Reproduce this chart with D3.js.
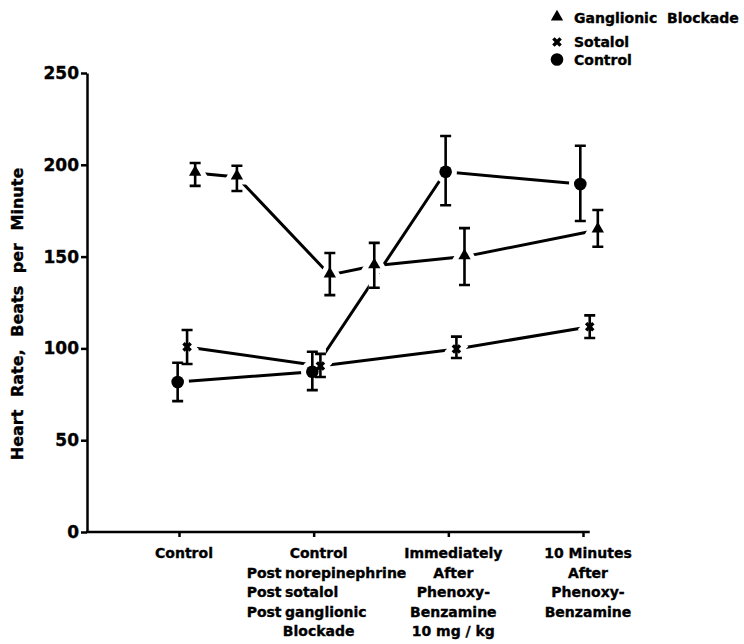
<!DOCTYPE html>
<html>
<head>
<meta charset="utf-8">
<script src="https://cdn.jsdelivr.net/npm/d3@7"></script>
<style>
	body { margin: 0; background: #fff; }
	text { font-family: "DejaVu Sans", sans-serif; font-weight: bold; fill: #000; stroke: #000; stroke-width: 0.35px; }
</style>
</head>
<body>
<div id="chart"></div>
<script>
// x positions are in category units (0 = first tick, 3 = last tick)
var controlX = [-0.01, 0.99, 1.98, 2.98];
var controlY = [81.7, 87.3, 196.2, 189.5];
var controlLo = [71.3, 77.3, 178, 169.4];
var controlHi = [92.2, 98.2, 215.7, 210.4];

var sotalolX = [0.06, 1.05, 2.06, 3.05];
var sotalolY = [100.8, 90.4, 99.7, 111.8];
var sotalolLo = [91.5, 84.4, 94.8, 105.7];
var sotalolHi = [110, 97, 106.4, 118];

var gangX = [0.12, 0.43, 1.12, 1.45, 2.12, 3.11];
var gangY = [195.5, 193.4, 140, 145, 150, 164.5];
var gangLo = [188.5, 185.7, 129, 133, 134.5, 155.4];
var gangHi = [201, 199.5, 152, 157.5, 165.5, 175.4];

var yTicks = [0, 50, 100, 150, 200, 250];
var xTicks = [0, 1, 2, 3];
var xLabels = [
	["Control"],
	["Control", "Post norepinephrine", "Post sotalol", "Post ganglionic", "Blockade"],
	["Immediately", "After", "Phenoxy-", "Benzamine", "10 mg / kg"],
	["10 Minutes", "After", "Phenoxy-", "Benzamine"]
];
var legendNames = ["Ganglionic Blockade", "Sotalol", "Control"];

var width = 744, height = 644;

var svg = d3.select("#chart")
	.append("svg")
	.attr("width", width)
	.attr("height", height);

var x = d3.scaleLinear().domain([0, 3]).range([179, 583]);
var y = d3.scaleLinear().domain([0, 250]).range([532, 73]);
var axisX = 87;

var triangle = d3.symbol().type(d3.symbolTriangle).size(66);
var cross = d3.symbol().type(d3.symbolCross).size(58);

function makeSeries(xs, ys, lo, hi, kind) {
	return xs.map(function (d, i) {
		return { x: d, y: ys[i], lo: lo[i], hi: hi[i], kind: kind };
	});
}

var control = makeSeries(controlX, controlY, controlLo, controlHi, "circle");
var sotalol = makeSeries(sotalolX, sotalolY, sotalolLo, sotalolHi, "cross");
var gang = makeSeries(gangX, gangY, gangLo, gangHi, "triangle");
var allSeries = [gang, sotalol, control];
var allPoints = gang.concat(sotalol, control);

// axes
var yAxis = d3.axisLeft(y).tickValues(yTicks).tickSize(6).tickSizeOuter(0).tickPadding(2);
var gy = svg.append("g")
	.attr("transform", "translate(" + axisX + ",0)")
	.call(yAxis);
gy.select(".domain").attr("stroke-width", 2.5);
gy.selectAll(".tick line").attr("stroke-width", 2.5);
gy.selectAll(".tick text")
	.style("font-size", "17px")
	.style("font-family", "DejaVu Sans")
	.style("font-weight", "bold");

svg.append("line")
	.attr("x1", axisX - 1)
	.attr("x2", x(3.05))
	.attr("y1", y(0))
	.attr("y2", y(0))
	.attr("stroke", "#000")
	.attr("stroke-width", 2.5);

var xAxis = d3.axisBottom(x).tickValues(xTicks).tickSize(5).tickFormat("");
var gx = svg.append("g")
	.attr("transform", "translate(0," + y(0) + ")")
	.call(xAxis);
gx.select(".domain").remove();
gx.selectAll(".tick line").attr("stroke-width", 2.5);

// category labels, several lines each
xLabels.forEach(function (lines, i) {
	lines.forEach(function (t, j) {
		var post = t.indexOf("Post") == 0;
		svg.append("text")
			.attr("x", post ? x(i) - 67 : x(i) + 5)
			.attr("y", y(0) + 26 + j * 19.5)
			.attr("text-anchor", post ? "start" : "middle")
			.style("font-size", "14px")
			.style("word-spacing", post ? "-1.5px" : "0px")
			.text(t);
	});
});

svg.append("text")
	.attr("transform", "translate(23,314) rotate(-90)")
	.attr("text-anchor", "middle")
	.style("font-size", "16px")
	.style("word-spacing", "7px")
	.text("Heart Rate, Beats per Minute");

// connecting lines
var line = d3.line()
	.x(function (d) { return x(d.x); })
	.y(function (d) { return y(d.y); });

svg.selectAll(".series")
	.data(allSeries)
	.enter().append("path")
	.attr("class", "series")
	.attr("d", line)
	.attr("fill", "none")
	.attr("stroke", "#000")
	.attr("stroke-width", 3);

// white halos so lines stop short of markers and bars
function errPath(d) {
	var cx = x(d.x);
	return "M" + (cx - 5.5) + "," + y(d.hi) + "H" + (cx + 5.5) +
		"M" + cx + "," + y(d.hi) + "V" + y(d.lo) +
		"M" + (cx - 5.5) + "," + y(d.lo) + "H" + (cx + 5.5);
}

function marker(sel) {
	sel.each(function (d) {
		var g = d3.select(this);
		if (d.kind == "circle") {
			g.append("circle").attr("r", 6.3);
		} else if (d.kind == "triangle") {
			g.append("path").attr("d", triangle).attr("transform", "translate(0,-1)");
		} else {
			g.append("path").attr("d", cross).attr("transform", "rotate(45)");
		}
	});
}

svg.selectAll(".halo")
	.data(allPoints)
	.enter().append("path")
	.attr("class", "halo")
	.attr("d", errPath)
	.attr("fill", "none")
	.attr("stroke", "#fff")
	.attr("stroke-width", 10);

svg.selectAll(".mhalo")
	.data(allPoints)
	.enter().append("g")
	.attr("class", "mhalo")
	.attr("transform", function (d) { return "translate(" + x(d.x) + "," + y(d.y) + ")"; })
	.attr("fill", "#fff")
	.attr("stroke", "#fff")
	.attr("stroke-width", 10)
	.call(marker);

svg.selectAll(".err")
	.data(allPoints)
	.enter().append("path")
	.attr("class", "err")
	.attr("d", errPath)
	.attr("fill", "none")
	.attr("stroke", "#000")
	.attr("stroke-width", 2.6);

svg.selectAll(".pt")
	.data(allPoints)
	.enter().append("g")
	.attr("class", "pt")
	.attr("transform", function (d) { return "translate(" + x(d.x) + "," + y(d.y) + ")"; })
	.attr("fill", "#000")
	.call(marker);

// legend
var legendKinds = ["triangle", "cross", "circle"];
var legendY = [18, 42, 59.5];
var lg = svg.selectAll(".legend")
	.data(legendNames)
	.enter().append("g")
	.attr("class", "legend")
	.attr("transform", function (d, i) { return "translate(557," + legendY[i] + ")"; });

lg.append("g")
	.datum(function (d, i) { return { kind: legendKinds[i] }; })
	.attr("fill", "#000")
	.call(marker);

lg.append("text")
	.attr("x", 17)
	.attr("y", 5)
	.style("font-size", "14px")
	.style("word-spacing", "5px")
	.text(function (d) { return d; });
</script>
</body>
</html>
